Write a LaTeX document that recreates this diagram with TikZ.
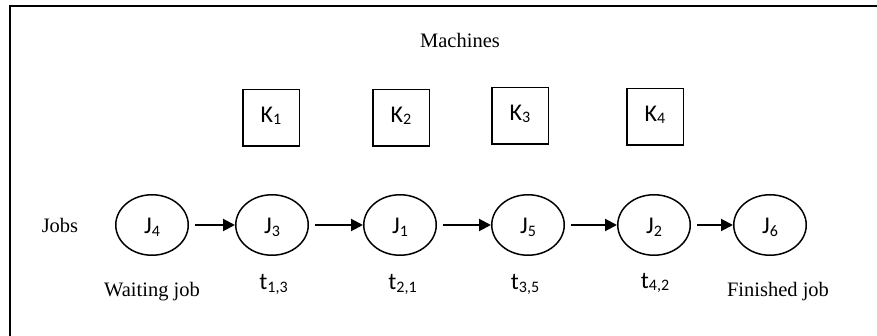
\documentclass[tikz,border=0pt]{standalone}
\usepackage{fontspec}
\setmainfont{Liberation Serif}
\newfontfamily\calfont{Carlito}
\usetikzlibrary{shapes.geometric,arrows.meta}
\newcommand{\mysub}[1]{\raisebox{-2.5pt}{\fontsize{16}{16}\selectfont #1}}
\begin{document}
\begin{tikzpicture}[x=1pt,y=-1pt,
  serif/.style={font=\fontsize{20.5}{24}\selectfont, inner sep=0pt, anchor=base},
  caltext/.style={font=\calfont\fontsize{24}{28}\selectfont, inner sep=0pt},
  machine/.style={draw, line width=1.5pt, minimum size=56.5pt, caltext, text height=8.6pt, text depth=0pt},
  job/.style={draw, ellipse, line width=1.5pt, minimum width=72.5pt, minimum height=60.5pt, caltext, text height=17.4pt, text depth=0pt},
  tlabel/.style={caltext, anchor=base},
  flow/.style={line width=2pt, shorten <=6pt, -{Triangle[length=12pt,width=12pt]}},
  frame/.style={line width=1.6pt}
]
\useasboundingbox (0,0) rectangle (877,336);
\draw[frame] (10,340) -- (10,6) -- (880,6);

\node[serif] (mach) at (460,47.5) {Machines};
\node[machine] (K1) at (271,118) {K\mysub{1}};
\node[machine] (K2) at (401,118) {K\mysub{2}};
\node[machine] (K3) at (520,116) {K\mysub{3}};
\node[machine] (K4) at (655,117) {K\mysub{4}};

\node[serif] (jobs) at (60,233) {Jobs};
\node[job] (J4) at (152,225) {J\mysub{4}};
\node[job] (J3) at (272,225) {J\mysub{3}};
\node[job] (J1) at (400,225) {J\mysub{1}};
\node[job] (J5) at (528,225) {J\mysub{5}};
\node[job] (J2) at (654,225) {J\mysub{2}};
\node[job] (J6) at (770,225) {J\mysub{6}};

\draw[flow] (J4) -- (J3);
\draw[flow] (J3) -- (J1);
\draw[flow] (J1) -- (J5);
\draw[flow] (J5) -- (J2);
\draw[flow] (J2) -- (J6);

\node[serif] (wait) at (152,296) {Waiting job};
\node[tlabel] (t13) at (273.5,290) {t\mysub{1,3}};
\node[tlabel] (t21) at (402.5,290) {t\mysub{2,1}};
\node[tlabel] (t35) at (525,290) {t\mysub{3,5}};
\node[tlabel] (t42) at (655,288) {t\mysub{4,2}};
\node[serif] (fin) at (778,297) {Finished job};
\end{tikzpicture}
\end{document}
